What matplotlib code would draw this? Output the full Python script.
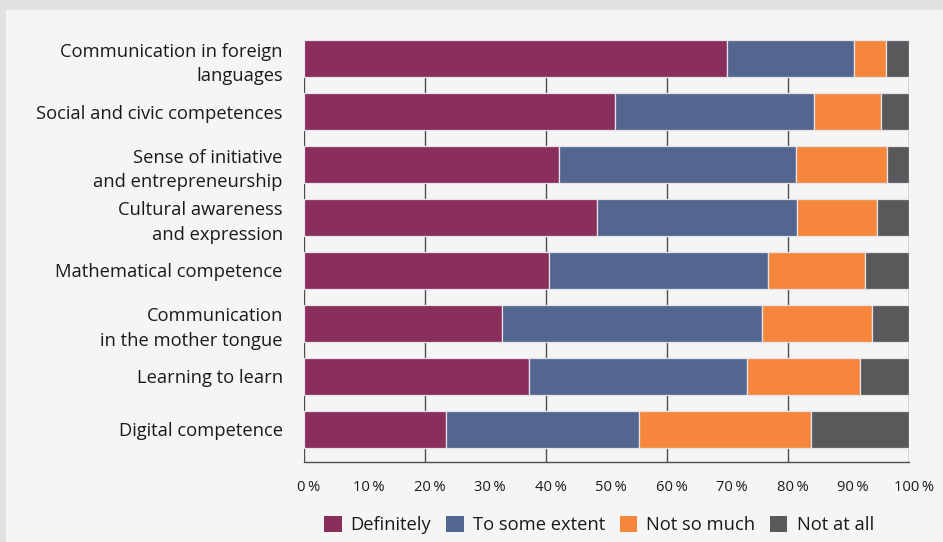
import matplotlib
matplotlib.use("Agg")
import matplotlib.pyplot as plt
from matplotlib.patches import Rectangle, Patch
import matplotlib.transforms as mtransforms
import numpy as np

plt.rcParams['font.family'] = ['Open Sans', 'DejaVu Sans']

categories = [
    "Communication in foreign\nlanguages",
    "Social and civic competences",
    "Sense of initiative\nand entrepreneurship",
    "Cultural awareness\nand expression",
    "Mathematical competence",
    "Communication\nin the mother tongue",
    "Learning to learn",
    "Digital competence",
]
series_names = ["Definitely", "To some extent", "Not so much", "Not at all"]
definitely = [70.0, 51.5, 42.2, 48.5, 40.5, 32.7, 37.3, 23.6]
some_extent = [20.9, 32.9, 39.1, 33.0, 36.2, 43.0, 36.0, 31.9]
not_so_much = [5.3, 11.1, 15.1, 13.3, 16.1, 18.2, 18.6, 28.4]
not_at_all = [3.8, 4.5, 3.6, 5.2, 7.2, 6.1, 8.1, 16.1]
tick_values = list(range(0, 101, 10))
tick_labels = [f"{v}\u2009%" for v in tick_values]
colors = ["#8a2f5c", "#52668f", "#f5863c", "#58595b"]

W, H = 943, 542
fig = plt.figure(figsize=(W / 100, H / 100), dpi=100)
fig.patch.set_facecolor("#e1e2e4")
fig.patches.append(Rectangle((6 / W, 0), 1 - 6 / W, 1 - 10 / H, transform=fig.transFigure,
                             facecolor="#f5f5f5", edgecolor="none", zorder=-10))

ax = fig.add_axes([303.7 / W, 1 - 461.7 / H, (908.7 - 303.7) / W, (461.7 - 39.7) / H])
ax.set_facecolor("none")
ax.set_zorder(5)

y = np.arange(len(categories))
series = [definitely, some_extent, not_so_much, not_at_all]
left = np.zeros(len(categories))
for vals, c, name in zip(series, colors, series_names):
    vals = np.array(vals)
    ax.barh(y, vals, left=left, height=0.71, color=c, edgecolor="#e6e3ea",
            linewidth=0.9, zorder=3, label=name)
    left += vals

ax.set_xlim(0, 100)
ax.set_ylim(len(categories) - 1 + 0.608, -0.355)

# vertical gridlines at 20% steps behind bars
for gx in range(0, 101, 20):
    ax.axvline(gx, color="#4d4d4d", linewidth=1.0, zorder=1)

for s in ["top", "right", "left"]:
    ax.spines[s].set_visible(False)
ax.spines["bottom"].set_color("#4d4d4d")
ax.spines["bottom"].set_linewidth(1.0)

ax.set_yticks(y)
ax.set_yticklabels(categories, fontsize=13.2, color="#1a1a1a", linespacing=1.45)
ax.tick_params(axis="y", length=0, pad=15)

ax.set_xticks(tick_values)
ax.set_xticklabels(tick_labels, fontsize=10.6, color="#1a1a1a")
ax.tick_params(axis="x", length=0, pad=13)
offset = mtransforms.ScaledTranslation(5 / 100, 0, fig.dpi_scale_trans)
for lab in ax.get_xticklabels():
    lab.set_transform(lab.get_transform() + offset)

handles = [Patch(facecolor=c, edgecolor="none") for c in colors]
fig.legend(handles, series_names, loc="center", bbox_to_anchor=(599 / W, 1 - 525 / H),
           ncol=4, frameon=False, fontsize=13.2, handlelength=0.95, handleheight=0.95,
           handletextpad=0.5, columnspacing=0.8, labelcolor="#1a1a1a")

fig.savefig("out.png", dpi=100, facecolor=fig.get_facecolor())
